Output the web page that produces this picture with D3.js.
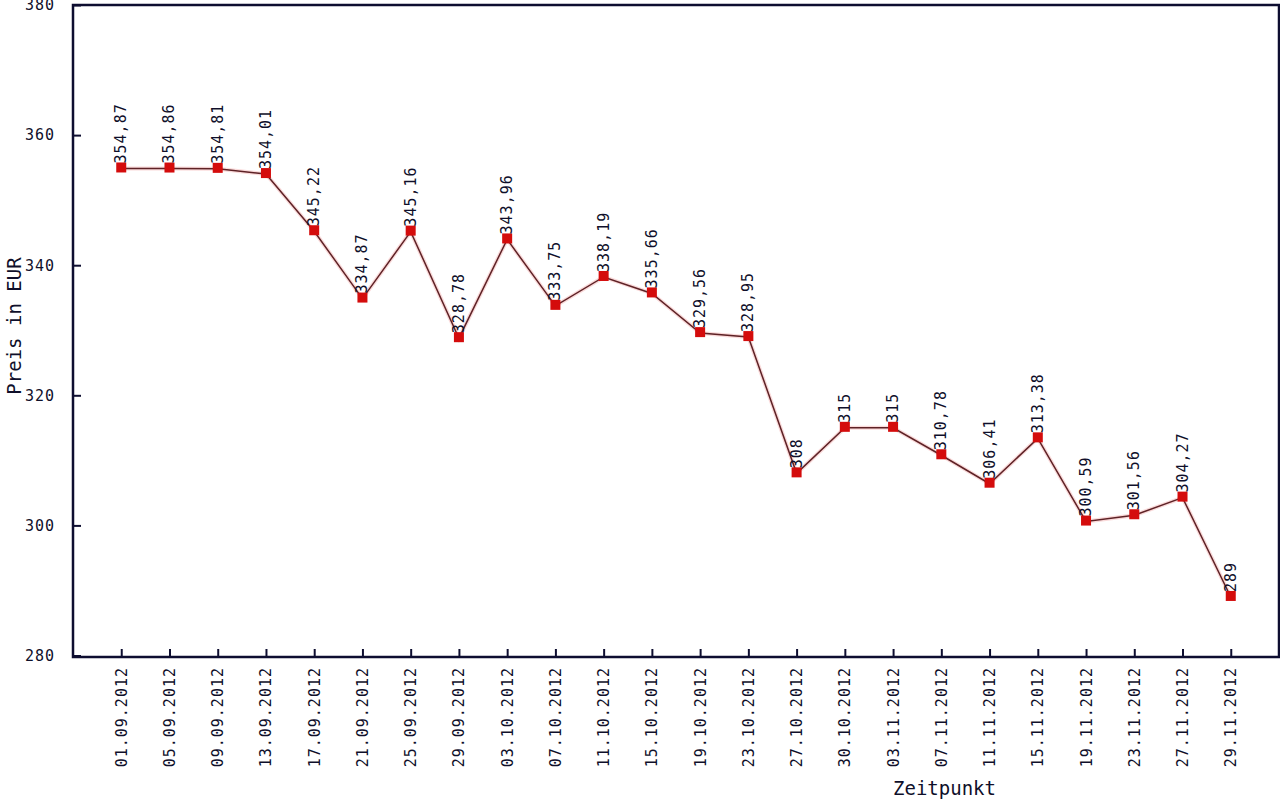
<!DOCTYPE html>
<html>
<head>
<meta charset="utf-8">
<script src="https://cdn.jsdelivr.net/npm/d3@7"></script>
<style>
  body { margin: 0; background: #fff; }
  svg { display: block; }
  text { font-family: "DejaVu Sans Mono", monospace; fill: #0f0f2a; }
</style>
</head>
<body>
<svg id="chart" width="1280" height="800"></svg>
<script>
// Data
const dates = ["01.09.2012", "05.09.2012", "09.09.2012", "13.09.2012", "17.09.2012", "21.09.2012",
  "25.09.2012", "29.09.2012", "03.10.2012", "07.10.2012", "11.10.2012", "15.10.2012",
  "19.10.2012", "23.10.2012", "27.10.2012", "30.10.2012", "03.11.2012", "07.11.2012",
  "11.11.2012", "15.11.2012", "19.11.2012", "23.11.2012", "27.11.2012", "29.11.2012"];
const prices = [354.87, 354.86, 354.81, 354.01, 345.22, 334.87, 345.16, 328.78, 343.96, 333.75,
  338.19, 335.66, 329.56, 328.95, 308, 315, 315, 310.78, 306.41, 313.38, 300.59, 301.56, 304.27, 289];
const yTicks = [280, 300, 320, 340, 360, 380];

const svg = d3.select("#chart");

// plot box
const box = { left: 73, right: 1279, top: 5, bottom: 657 };

const x = d3.scalePoint()
  .domain(dates)
  .range([box.left, box.right])
  .padding(1);

const y = d3.scaleLinear()
  .domain([280, 380])
  .range([655.5, box.top]);

const fmt = v => String(v).replace(".", ",");

// frame
svg.append("rect")
  .attr("x", box.left)
  .attr("y", box.top)
  .attr("width", box.right - box.left)
  .attr("height", box.bottom - box.top)
  .attr("fill", "none")
  .attr("stroke", "#0d0d30")
  .attr("stroke-width", 2.5);

// y axis, ticks point inward
const yAxis = d3.axisLeft(y).tickValues(yTicks).tickSize(-8).tickPadding(18).tickFormat(d3.format("d"));
svg.append("g")
  .attr("transform", `translate(${box.left},0)`)
  .call(yAxis)
  .call(g => g.select(".domain").remove())
  .call(g => g.selectAll(".tick line").attr("stroke", "#0d0d30").attr("stroke-width", 2))
  .call(g => g.selectAll(".tick text")
    .style("font-family", "DejaVu Sans Mono")
    .style("font-size", "15px")
    .style("letter-spacing", "1px")
    .attr("fill", "#0f0f2a"));

// x axis, ticks point inward, labels vertical
const xAxis = d3.axisBottom(x).tickSize(-8).tickSizeOuter(0);
svg.append("g")
  .attr("transform", `translate(0,${box.bottom})`)
  .call(xAxis)
  .call(g => g.select(".domain").remove())
  .call(g => g.selectAll(".tick line").attr("stroke", "#0d0d30").attr("stroke-width", 2))
  .call(g => g.selectAll(".tick text")
    .style("font-family", "DejaVu Sans Mono")
    .style("font-size", "15px")
    .style("letter-spacing", "1px")
    .attr("fill", "#0f0f2a")
    .attr("text-anchor", "end")
    .attr("dy", null)
    .attr("y", 0)
    .attr("transform", "translate(5,10) rotate(-90)"));

// line with a faint glow underneath
const line = d3.line()
  .x((d, i) => x(dates[i]))
  .y(d => y(d));

svg.append("path")
  .datum(prices)
  .attr("d", line)
  .attr("fill", "none")
  .attr("stroke", "#f5b5b5")
  .attr("stroke-width", 4)
  .attr("opacity", 0.5);

svg.append("path")
  .datum(prices)
  .attr("d", line)
  .attr("fill", "none")
  .attr("stroke", "#5e2226")
  .attr("stroke-width", 1.5);

// square markers
svg.append("g")
  .selectAll("rect")
  .data(prices)
  .join("rect")
  .attr("x", (d, i) => x(dates[i]) - 5)
  .attr("y", d => y(d) - 6)
  .attr("width", 10)
  .attr("height", 10)
  .attr("fill", "#d40c0c");

// value labels, vertical
svg.append("g")
  .selectAll("text")
  .data(prices)
  .join("text")
  .attr("transform", (d, i) => `translate(${x(dates[i]) + 5},${y(d) - 5}) rotate(-90)`)
  .style("font-size", "15px")
  .style("letter-spacing", "1px")
  .attr("fill", "#000")
  .text(d => fmt(d));

// axis titles
svg.append("text")
  .attr("transform", "translate(21,326) rotate(-90)")
  .attr("text-anchor", "middle")
  .style("font-size", "19px")
  .text("Preis in EUR");

svg.append("text")
  .attr("x", 893)
  .attr("y", 795)
  .style("font-size", "19px")
  .text("Zeitpunkt");
</script>
</body>
</html>
